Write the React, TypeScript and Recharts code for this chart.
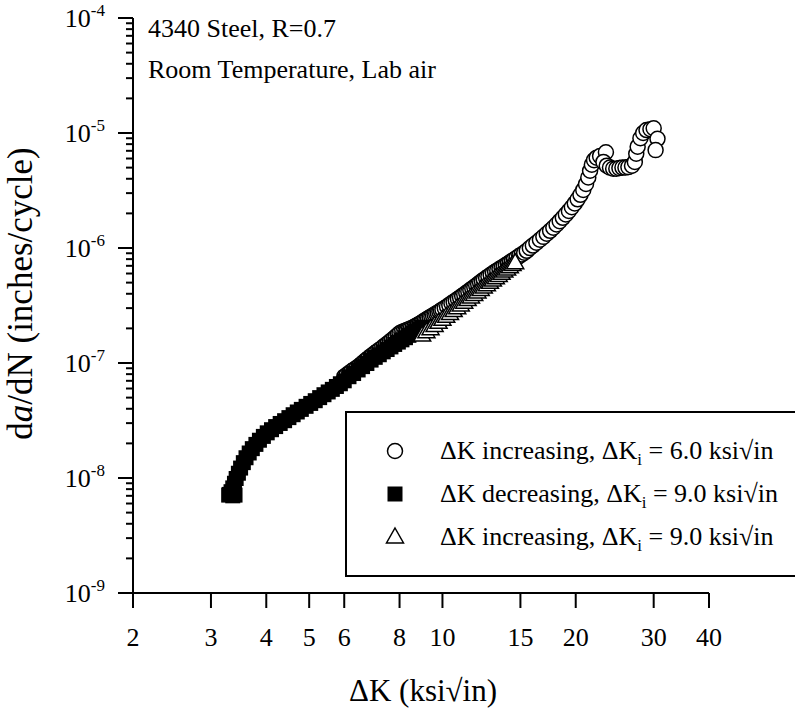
import React from "react";
import { ScatterChart, Scatter, XAxis, YAxis, Legend, Label } from "recharts";

const FONT = "'Liberation Serif', 'Times New Roman', serif";

// tick values
const xTicks = [2, 3, 4, 5, 6, 8, 10, 15, 20, 30, 40];
const yMajorTicks = [1e-9, 1e-8, 1e-7, 1e-6, 1e-5, 1e-4];
const yMinorSteps = [2, 3, 4, 5, 6, 7, 8, 9];
const yTicks = [
  ...yMajorTicks,
  ...yMajorTicks.slice(0, -1).flatMap((d) => yMinorSteps.map((s) => s * d)),
];

// ΔK increasing, ΔKi = 6.0 (open circles)
const incr6DeltaK = [
  6.0, 6.08, 6.16, 6.24, 6.32, 6.4, 6.48, 6.56, 6.64, 6.72, 6.8, 6.88, 6.96, 7.04, 7.12, 7.2,
  7.28, 7.36, 7.44, 7.52, 7.6, 7.68, 7.76, 7.84, 7.92, 8.0, 8.08, 8.16, 8.24, 8.32, 8.4, 8.48,
  8.56, 8.64, 8.72, 8.8, 8.88, 8.96, 9.04, 9.12, 9.2, 9.28, 9.36, 9.44, 9.52, 9.6, 9.68, 9.76,
  9.84, 9.92, 10.0, 10.12, 10.24, 10.36, 10.48, 10.6, 10.72, 10.84, 10.96, 11.08, 11.2, 11.32,
  11.44, 11.56, 11.68, 11.8, 11.92, 12.04, 12.16, 12.28, 12.4, 12.55, 12.7, 12.85, 13.0, 13.15,
  13.3, 13.45, 13.6, 13.75, 13.9, 14.05, 14.2, 14.35, 14.5, 14.7, 14.9, 15.1, 15.3, 15.5,
  15.75, 16.0, 16.3, 16.6, 16.9, 17.2, 17.5, 17.8, 18.1, 18.4, 18.7, 19.0, 19.3, 19.6, 19.9,
  20.2, 20.5, 20.8, 21.1, 21.35, 21.55, 21.75, 22.0, 22.3, 22.7, 23.4, 23.1, 23.5, 23.9, 24.3,
  24.7, 25.1, 25.5, 25.9, 26.3, 26.8, 27.2, 27.4, 27.6, 28.0, 28.4, 28.9, 29.5, 30.0, 30.6,
  30.3,
];
const incr6Rate = [
  7.6e-8, 7.9e-8, 8.2e-8, 8.5e-8, 8.8e-8, 9.1e-8, 9.4e-8, 9.8e-8, 1.02e-7, 1.06e-7, 1.1e-7,
  1.14e-7, 1.18e-7, 1.22e-7, 1.26e-7, 1.3e-7, 1.34e-7, 1.39e-7, 1.43e-7, 1.48e-7, 1.53e-7,
  1.58e-7, 1.63e-7, 1.69e-7, 1.75e-7, 1.81e-7, 1.85e-7, 1.88e-7, 1.91e-7, 1.94e-7, 1.97e-7,
  2.0e-7, 2.03e-7, 2.07e-7, 2.11e-7, 2.15e-7, 2.19e-7, 2.24e-7, 2.29e-7, 2.34e-7, 2.39e-7,
  2.44e-7, 2.49e-7, 2.54e-7, 2.59e-7, 2.64e-7, 2.69e-7, 2.74e-7, 2.8e-7, 2.86e-7, 2.92e-7,
  3.01e-7, 3.1e-7, 3.2e-7, 3.3e-7, 3.4e-7, 3.5e-7, 3.61e-7, 3.72e-7, 3.83e-7, 3.95e-7,
  4.07e-7, 4.19e-7, 4.32e-7, 4.45e-7, 4.58e-7, 4.72e-7, 4.86e-7, 5.0e-7, 5.15e-7, 5.3e-7,
  5.48e-7, 5.66e-7, 5.84e-7, 6.02e-7, 6.2e-7, 6.38e-7, 6.56e-7, 6.74e-7, 6.92e-7, 7.1e-7,
  7.3e-7, 7.5e-7, 7.7e-7, 7.9e-7, 8.2e-7, 8.5e-7, 8.8e-7, 9.1e-7, 9.45e-7, 1.0e-6, 1.05e-6,
  1.11e-6, 1.18e-6, 1.25e-6, 1.33e-6, 1.41e-6, 1.5e-6, 1.6e-6, 1.71e-6, 1.83e-6, 1.96e-6,
  2.1e-6, 2.26e-6, 2.44e-6, 2.65e-6, 2.9e-6, 3.2e-6, 3.6e-6, 4.1e-6, 4.7e-6, 5.3e-6, 5.8e-6,
  6.1e-6, 6.3e-6, 6.8e-6, 5.6e-6, 5.2e-6, 5.0e-6, 4.9e-6, 4.9e-6, 4.95e-6, 5.0e-6, 5.0e-6,
  5.05e-6, 5.2e-6, 5.6e-6, 6.6e-6, 7.6e-6, 9.0e-6, 1.0e-5, 1.06e-5, 1.08e-5, 1.1e-5, 8.9e-6,
  7.1e-6,
];

// ΔK decreasing, ΔKi = 9.0 (filled squares)
const decr9DeltaK = [
  9.0, 8.85, 8.7, 8.55, 8.4, 8.25, 8.1, 7.95, 7.8, 7.65, 7.5, 7.35, 7.2, 7.05, 6.9, 6.75, 6.6,
  6.45, 6.3, 6.15, 6.0, 5.88, 5.76, 5.64, 5.52, 5.4, 5.28, 5.16, 5.04, 4.92, 4.8, 4.7, 4.6,
  4.5, 4.4, 4.3, 4.2, 4.11, 4.02, 3.94, 3.86, 3.79, 3.72, 3.66, 3.6, 3.55, 3.5, 3.46, 3.42,
  3.39, 3.36, 3.33, 3.3, 3.29, 3.36, 3.4,
];
const decr9Rate = [
  2.05e-7, 1.97e-7, 1.89e-7, 1.82e-7, 1.74e-7, 1.66e-7, 1.59e-7, 1.52e-7, 1.45e-7, 1.38e-7,
  1.31e-7, 1.25e-7, 1.18e-7, 1.12e-7, 1.06e-7, 9.9e-8, 9.3e-8, 8.7e-8, 8.1e-8, 7.6e-8, 7.0e-8,
  6.6e-8, 6.25e-8, 5.9e-8, 5.6e-8, 5.3e-8, 5.0e-8, 4.7e-8, 4.45e-8, 4.2e-8, 3.95e-8, 3.75e-8,
  3.55e-8, 3.35e-8, 3.15e-8, 2.98e-8, 2.8e-8, 2.63e-8, 2.47e-8, 2.3e-8, 2.13e-8, 1.96e-8,
  1.8e-8, 1.65e-8, 1.5e-8, 1.36e-8, 1.22e-8, 1.1e-8, 9.9e-9, 9.0e-9, 8.2e-9, 7.6e-9, 7.2e-9,
  7.1e-9, 7.0e-9, 7.1e-9,
];

// ΔK increasing, ΔKi = 9.0 (open triangles)
const incr9DeltaK = [
  9.0, 9.2, 9.4, 9.6, 9.8, 10.0, 10.2, 10.4, 10.6, 10.8, 11.0, 11.2, 11.4, 11.6, 11.8, 12.0,
  12.2, 12.4, 12.6, 12.8, 13.0, 13.2, 13.4, 13.6, 13.8, 14.0, 14.2, 14.4, 14.6,
];
const incr9Rate = [
  1.75e-7, 1.87e-7, 1.99e-7, 2.12e-7, 2.26e-7, 2.4e-7, 2.55e-7, 2.7e-7, 2.86e-7, 3.03e-7,
  3.2e-7, 3.38e-7, 3.56e-7, 3.75e-7, 3.95e-7, 4.15e-7, 4.36e-7, 4.58e-7, 4.8e-7, 5.03e-7,
  5.27e-7, 5.52e-7, 5.77e-7, 6.03e-7, 6.3e-7, 6.58e-7, 6.87e-7, 7.17e-7, 7.45e-7,
];

const legendNames = ["ΔK increasing, ΔK", "ΔK decreasing, ΔK", "ΔK increasing, ΔK"];
const legendKi = ["6.0", "9.0", "9.0"];

const zip = (xs: number[], ys: number[]) => xs.map((x, i) => ({ x, y: ys[i] }));
const incr6 = zip(incr6DeltaK, incr6Rate);
const decr9 = zip(decr9DeltaK, decr9Rate);
const incr9 = zip(incr9DeltaK, incr9Rate);

const OpenCircle = ({ cx, cy }: any) => (
  <circle cx={cx} cy={cy} r={7.5} fill="#fff" stroke="#000" strokeWidth={1.5} />
);
const FilledSquare = ({ cx, cy }: any) => (
  <rect x={cx - 7.5} y={cy - 7.5} width={15} height={15} fill="#000" />
);
const OpenTriangle = ({ cx, cy }: any) => (
  <path
    d={`M${cx},${cy - 9}L${cx + 8.5},${cy + 6}L${cx - 8.5},${cy + 6}Z`}
    fill="#fff"
    stroke="#000"
    strokeWidth={1.5}
  />
);
const markers = [OpenCircle, FilledSquare, OpenTriangle];

const XTick = ({ x, y, payload }: any) => (
  <g>
    <line x1={x} x2={x} y1={y} y2={y + 15} stroke="#000" strokeWidth={2} />
    <text x={x} y={y + 53} textAnchor="middle" fontFamily={FONT} fontSize={26} fill="#000">
      {payload.value}
    </text>
  </g>
);

const YTick = ({ x, y, payload }: any) => {
  const exp = Math.round(Math.log10(payload.value));
  const major = Math.abs(Math.log10(payload.value) - exp) < 1e-6;
  return (
    <g>
      <line x1={x} x2={x - (major ? 15 : 7)} y1={y} y2={y} stroke="#000" strokeWidth={2} />
      {major && (
        <text x={x - 28} y={y + 9} textAnchor="end" fontFamily={FONT} fontSize={26} fill="#000">
          10
          <tspan fontSize={17} dy={-11}>
            {`${exp}`}
          </tspan>
        </text>
      )}
    </g>
  );
};

const XTitle = ({ viewBox }: any) => (
  <text
    x={viewBox.x + viewBox.width / 2 + 2}
    y={viewBox.y + 108}
    textAnchor="middle"
    fontFamily={FONT}
    fontSize={31}
    fill="#000"
  >
    ΔK (ksi√in)
  </text>
);

const YTitle = ({ viewBox }: any) => {
  const cy = viewBox.y + viewBox.height / 2 - 12;
  return (
    <text
      x={32}
      y={cy}
      transform={`rotate(-90, 32, ${cy})`}
      textAnchor="middle"
      fontFamily={FONT}
      fontSize={35}
      fill="#000"
    >
      d<tspan fontStyle="italic">a</tspan>/dN (inches/cycle)
    </text>
  );
};

const LegendBox = () => (
  <svg width={450} height={166} style={{ display: "block" }}>
    <path d="M460,1 H1 V165 H460" fill="none" stroke="#000" strokeWidth={2} />
    {legendNames.map((name, i) => {
      const Marker = markers[i];
      const cy = 40 + i * 43;
      return (
        <g key={i}>
          <Marker cx={50} cy={cy} />
          <text x={95} y={cy + 8} fontFamily={FONT} fontSize={26} fill="#000">
            {name}
            <tspan fontSize={17} dy={6}>
              i
            </tspan>
            <tspan dy={-6}>{` = ${legendKi[i]} ksi√in`}</tspan>
          </text>
        </g>
      );
    })}
  </svg>
);

export default function App() {
  return (
    <div
      style={{
        position: "absolute",
        left: 0,
        top: 0,
        width: 795,
        height: 716,
        overflow: "hidden",
        background: "#fff",
        fontFamily: FONT,
      }}
    >
      <ScatterChart width={795} height={716} margin={{ top: 18, right: 86, bottom: 0, left: 33 }}>
        <XAxis
          type="number"
          dataKey="x"
          scale="log"
          domain={[2, 40]}
          allowDataOverflow
          ticks={xTicks}
          interval={0}
          tickSize={0}
          tickMargin={0}
          tick={<XTick />}
          axisLine={{ stroke: "#000", strokeWidth: 2 }}
          height={123}
          label={<Label content={XTitle} />}
        />
        <YAxis
          type="number"
          dataKey="y"
          scale="log"
          domain={[1e-9, 1e-4]}
          allowDataOverflow
          ticks={yTicks}
          interval={0}
          tickSize={0}
          tickMargin={0}
          tick={<YTick />}
          axisLine={{ stroke: "#000", strokeWidth: 2 }}
          width={100}
          label={<Label content={YTitle} />}
        />
        <Scatter name="incr6" data={incr6} shape={OpenCircle} isAnimationActive={false} />
        <Scatter name="decr9" data={decr9} shape={FilledSquare} isAnimationActive={false} />
        <Scatter name="incr9" data={incr9} shape={OpenTriangle} isAnimationActive={false} />
        <Legend
          layout="horizontal"
          verticalAlign="middle"
          align="center"
          content={LegendBox}
          wrapperStyle={{ left: 345, top: 411, width: 450, height: 166 }}
        />
      </ScatterChart>
      <svg width={795} height={100} style={{ position: "absolute", left: 0, top: 0 }}>
        <text x={148} y={37} fontFamily={FONT} fontSize={26} fill="#000">
          4340 Steel, R=0.7
        </text>
        <text x={148} y={78} fontFamily={FONT} fontSize={26} fill="#000">
          Room Temperature, Lab air
        </text>
      </svg>
    </div>
  );
}
